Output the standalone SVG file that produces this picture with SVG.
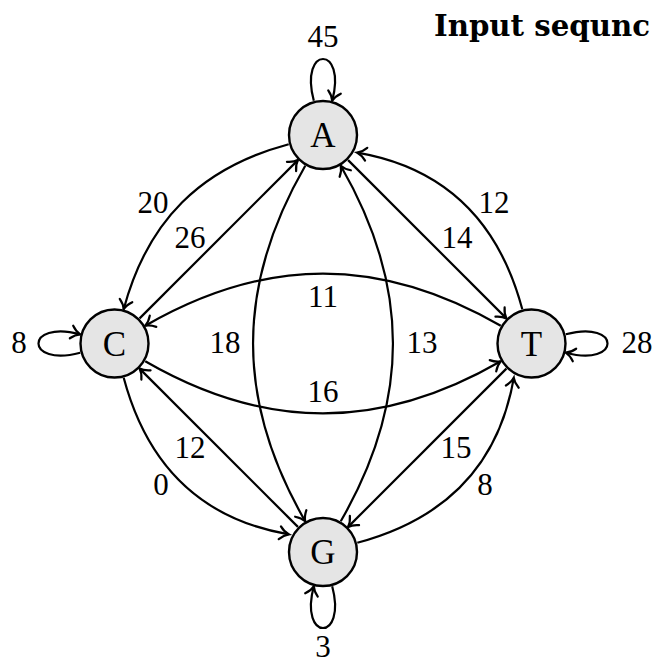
<svg xmlns="http://www.w3.org/2000/svg" width="656" height="665" viewBox="0 0 656 665">
<style>
  .edge { fill: none; stroke: #000; stroke-width: 2.2; marker-end: url(#arr); }
  .node circle { fill: #e5e5e5; stroke: #000; stroke-width: 2.4; }
  .node text { font-family: "Liberation Serif", "Times New Roman", serif; font-size: 35px; text-anchor: middle; fill: #000; }
  .lbl { font-family: "Liberation Serif", "Times New Roman", serif; font-size: 31px; text-anchor: middle; fill: #000; }
  .title { font-family: "DejaVu Serif", "Liberation Serif", serif; font-weight: bold; font-size: 29px; fill: #000; }
</style>
<defs>
  <marker id="arr" markerUnits="userSpaceOnUse" markerWidth="20" markerHeight="20" refX="0" refY="0" orient="auto" overflow="visible">
    <path d="M -9 -6.5 C -6 -3 -2.5 -0.8 0 0 C -2.5 0.8 -6 3 -9 6.5" fill="none" stroke="#000" stroke-width="2.2" stroke-linecap="round"/>
  </marker>
</defs>
<rect width="656" height="665" fill="#fff"/>
<text class="title" x="434" y="36" textLength="216" lengthAdjust="spacingAndGlyphs">Input sequnc</text>
<g id="connectors">
  <path class="edge" d="M 313.81 100.71 C 298.9 45.07 347.1 45.07 332.19 100.71"/>
  <path class="edge" d="M 80.21 352.69 C 24.57 367.6 24.57 319.4 80.21 334.31"/>
  <path class="edge" d="M 332.19 586.29 C 347.1 641.93 298.9 641.93 313.81 586.29"/>
  <path class="edge" d="M 565.79 334.31 C 621.43 319.4 621.43 367.6 565.79 352.69"/>
  <path class="edge" d="M 288.71 144.19 C 200.43 167.85 147.35 220.93 123.69 309.21"/>
  <path class="edge" d="M 123.69 377.79 C 147.35 466.07 200.43 519.15 288.71 534.31"/>
  <path class="edge" d="M 357.29 542.81 C 445.57 519.15 498.65 466.07 513.81 377.79"/>
  <path class="edge" d="M 522.31 309.21 C 498.65 220.93 445.57 167.85 357.29 152.69"/>
  <path class="edge" d="M 139.6 318.4 L 297.9 160.1"/>
  <path class="edge" d="M 348.1 160.1 L 506.4 318.4"/>
  <path class="edge" d="M 506.4 368.6 L 348.1 526.9"/>
  <path class="edge" d="M 297.9 526.9 L 139.6 368.6"/>
  <path class="edge" d="M 500.76 325.75 C 380.2 256.15 265.8 256.15 145.24 325.75"/>
  <path class="edge" d="M 145.24 361.25 C 265.8 430.85 380.2 430.85 500.76 361.25"/>
  <path class="edge" d="M 305.25 165.74 C 235.65 286.29 235.65 400.71 305.25 521.26"/>
  <path class="edge" d="M 340.75 521.26 C 410.35 400.71 410.35 286.29 340.75 165.74"/>
</g>
<g id="edge-labels">
  <text class="lbl" x="323" y="47">45</text>
  <text class="lbl" x="153" y="213">20</text>
  <text class="lbl" x="190" y="248">26</text>
  <text class="lbl" x="494" y="213">12</text>
  <text class="lbl" x="457" y="248">14</text>
  <text class="lbl" x="323" y="307">11</text>
  <text class="lbl" x="323" y="402">16</text>
  <text class="lbl" x="225" y="353">18</text>
  <text class="lbl" x="422" y="353">13</text>
  <text class="lbl" x="19" y="353">8</text>
  <text class="lbl" x="637" y="353">28</text>
  <text class="lbl" x="190" y="458">12</text>
  <text class="lbl" x="161" y="495">0</text>
  <text class="lbl" x="456" y="458">15</text>
  <text class="lbl" x="485" y="495">8</text>
  <text class="lbl" x="323" y="657">3</text>
</g>
<g id="node-A" class="node"><circle cx="323" cy="135" r="34"/><text x="323" y="147">A</text></g>
<g id="node-C" class="node"><circle cx="114.5" cy="343.5" r="34"/><text x="114.5" y="355.5">C</text></g>
<g id="node-T" class="node"><circle cx="531.5" cy="343.5" r="34"/><text x="531.5" y="355.5">T</text></g>
<g id="node-G" class="node"><circle cx="323" cy="552" r="34"/><text x="323" y="564">G</text></g>
</svg>
